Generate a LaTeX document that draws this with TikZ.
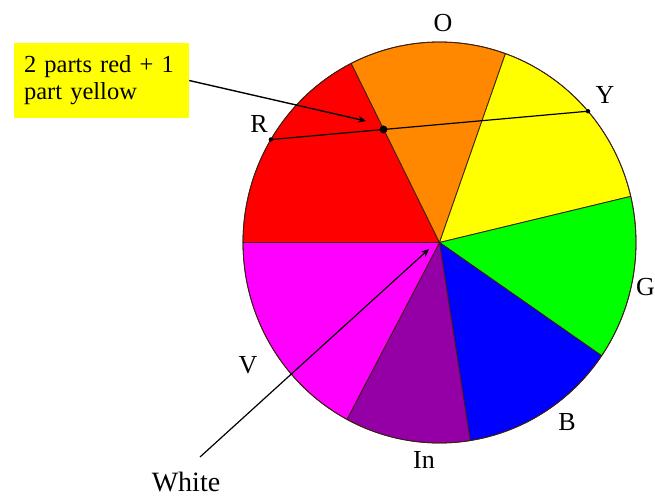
\documentclass[tikz,border=0pt]{standalone}
\usepackage{fontspec}
\setmainfont{Liberation Serif}
\newfontfamily\boxfont{Liberation Serif}
\usetikzlibrary{calc,arrows.meta}
\definecolor{cred}{RGB}{255,0,0}
\definecolor{corange}{RGB}{255,136,0}
\definecolor{cyellow}{RGB}{255,255,0}
\definecolor{cgreen}{RGB}{0,255,0}
\definecolor{cblue}{RGB}{0,0,255}
\definecolor{cpurple}{RGB}{148,0,166}
\definecolor{cmagenta}{RGB}{255,0,255}
\definecolor{edge}{RGB}{60,30,20}
\begin{document}
\begin{tikzpicture}[x=1pt,y=1pt,
  sector/.style={draw=edge,line width=0.8pt,line join=round},
  lbl/.style={font=\rmfamily\fontsize{26}{28}\selectfont,inner sep=0pt},
  conn/.style={draw=black,line width=1.4pt},
  tip/.style={-{Stealth[length=8pt,width=7pt]}},
  callout/.style={fill=cyellow,text width=155pt,align=left,inner xsep=10pt,inner ysep=6pt,
    font=\boxfont\fontsize{24.5}{27}\selectfont,minimum height=75pt,minimum width=173pt}]
\clip (0,0) rectangle (655,498);
\fill[white] (0,0) rectangle (655,498);
\coordinate (c) at (439.5,255.5);
\foreach \a/\b/\col in {116.7/180/cred, 70.4/116.7/corange, 13.3/70.4/cyellow,
  -34.4/13.3/cgreen, -81/-34.4/cblue, -118.1/-81/cpurple, 180/241.9/cmagenta}{
  \filldraw[sector,fill=\col] (c) -- ($(c)+(\a:196.5pt and 200.5pt)$)
    arc[start angle=\a, end angle=\b, x radius=196.5pt, y radius=200.5pt] -- cycle;
}
\draw[edge,line width=0.8pt] (c) ellipse[x radius=196.5pt, y radius=200.5pt];
% labels
\node[lbl] (O) at (443,475) {O};
\node[lbl] (Y) at (605,403) {Y};
\node[lbl] (R) at (259,374) {R};
\node[lbl,anchor=west] (G) at (636,211) {G};
\node[lbl] (V) at (248,133) {V};
\node[lbl] (B) at (567,76) {B};
\node[lbl] (In) at (424,38) {In};
\node[lbl,font=\rmfamily\fontsize{28}{30}\selectfont] (White) at (186,16) {White};
% chord
\coordinate (pR) at ($(c)+(149.1:196.5pt and 200.5pt)$);
\coordinate (pY) at ($(c)+(40.9:196.5pt and 200.5pt)$);
\draw[conn,line width=1.2pt] (pR) -- (pY);
\fill (pR) circle (2.2pt);
\fill (pY) circle (2.2pt);
\coordinate (mix) at ($(pR)!0.355!(pY)$);
\fill (mix) circle (4pt);
% callout
\node[callout] (box) at (101.5,417.5) {2 parts red + 1\\part yellow};
\coordinate (mt) at (366,377);
\draw[conn,tip] (box.east) -- (mt);
% white arrow
\coordinate (ws) at (200,41);
\coordinate (wt) at (429,249);
\draw[conn,line width=1.2pt,tip] (ws) -- (wt);
\end{tikzpicture}
\end{document}
